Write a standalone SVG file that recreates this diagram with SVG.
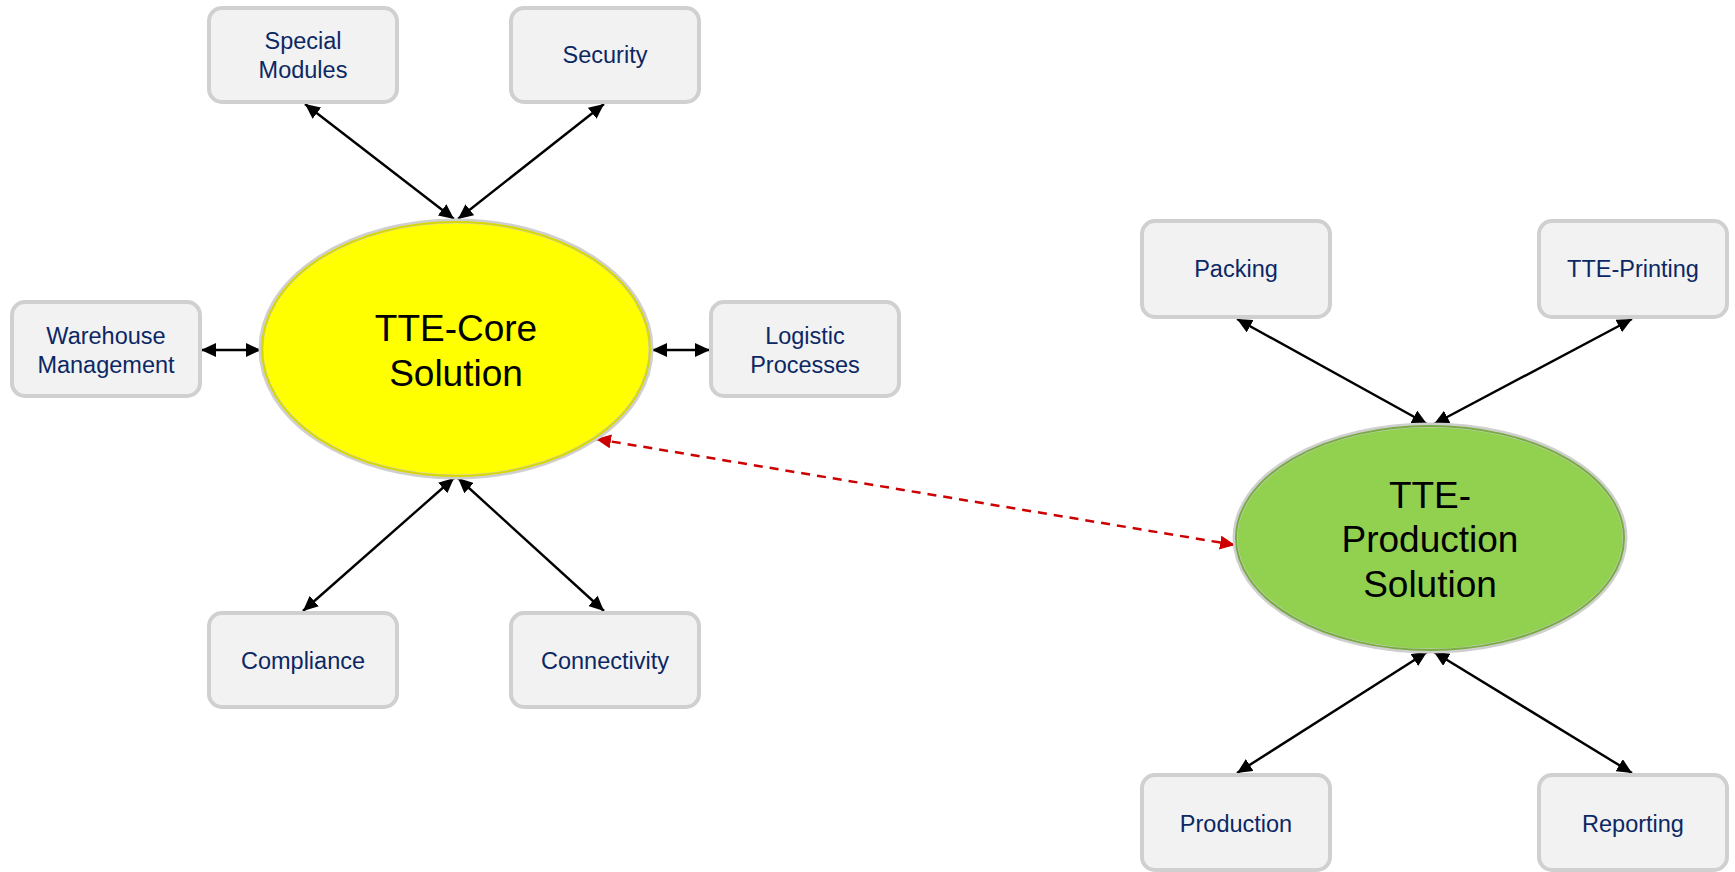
<svg xmlns="http://www.w3.org/2000/svg" width="1735" height="872" viewBox="0 0 1735 872">
<defs>
<style>
.box{fill:#f2f2f2;stroke:#d0d0d0;stroke-width:4}
.lbl{font-family:"Liberation Sans",Arial,sans-serif;font-size:23.5px;fill:#0c2864;text-anchor:middle}
.big{font-family:"Liberation Sans",Arial,sans-serif;font-size:37px;fill:#000;text-anchor:middle}
.con{stroke:#000;stroke-width:2.4;fill:none;marker-start:url(#ah);marker-end:url(#ah)}
.red{stroke:#cc0000;stroke-width:2.5;fill:none;stroke-dasharray:9 7;marker-start:url(#ahr);marker-end:url(#ahr)}
</style>
<marker id="ah" markerUnits="userSpaceOnUse" markerWidth="16" markerHeight="14" refX="15" refY="7" orient="auto-start-reverse"><path d="M0,0 L15,7 L0,14 z" fill="#000"/></marker>
<marker id="ahr" markerUnits="userSpaceOnUse" markerWidth="16" markerHeight="14" refX="15" refY="7" orient="auto-start-reverse"><path d="M0,0 L15,7 L0,14 z" fill="#cc0000"/></marker>
</defs>
<rect width="1735" height="872" fill="#fff"/>
<g id="connectors">
<line class="con" x1="305" y1="104" x2="454" y2="219"/>
<line class="con" x1="604" y1="104" x2="458" y2="219"/>
<line class="con" x1="201" y1="350" x2="261" y2="350"/>
<line class="con" x1="652" y1="350" x2="710" y2="350"/>
<line class="con" x1="303" y1="611" x2="454" y2="478"/>
<line class="con" x1="604" y1="611" x2="458" y2="478"/>
<line class="con" x1="1237" y1="319" x2="1427" y2="424"/>
<line class="con" x1="1632" y1="319" x2="1434" y2="424"/>
<line class="con" x1="1237" y1="773" x2="1427" y2="652"/>
<line class="con" x1="1632" y1="773" x2="1434" y2="652"/>
<line class="red" x1="596" y1="439" x2="1235" y2="545"/>
</g>
<g id="core">
<ellipse cx="456" cy="349" rx="195" ry="128" fill="#ffff00" stroke="#cfcfcf" stroke-width="5"/>
<ellipse cx="456" cy="349" rx="194" ry="127" fill="none" stroke="#d8d800" stroke-width="2"/>
<text class="big" x="456" y="341">TTE-Core</text>
<text class="big" x="456" y="386">Solution</text>
</g>
<g id="production-solution">
<ellipse cx="1430" cy="538" rx="195" ry="113" fill="#92d050" stroke="#cfcfcf" stroke-width="5"/>
<ellipse cx="1430" cy="538" rx="194" ry="112" fill="none" stroke="#78ac42" stroke-width="2"/>
<text class="big" x="1430" y="508">TTE-</text>
<text class="big" x="1430" y="552">Production</text>
<text class="big" x="1430" y="597">Solution</text>
</g>
<g id="special-modules"><rect class="box" x="209" y="8" width="188" height="94" rx="13"/><text class="lbl" x="303" y="49">Special</text><text class="lbl" x="303" y="78">Modules</text></g>
<g id="security"><rect class="box" x="511" y="8" width="188" height="94" rx="13"/><text class="lbl" x="605" y="63">Security</text></g>
<g id="warehouse"><rect class="box" x="12" y="302" width="188" height="94" rx="13"/><text class="lbl" x="106" y="344">Warehouse</text><text class="lbl" x="106" y="373">Management</text></g>
<g id="logistic"><rect class="box" x="711" y="302" width="188" height="94" rx="13"/><text class="lbl" x="805" y="344">Logistic</text><text class="lbl" x="805" y="373">Processes</text></g>
<g id="compliance"><rect class="box" x="209" y="613" width="188" height="94" rx="13"/><text class="lbl" x="303" y="669">Compliance</text></g>
<g id="connectivity"><rect class="box" x="511" y="613" width="188" height="94" rx="13"/><text class="lbl" x="605" y="669">Connectivity</text></g>
<g id="packing"><rect class="box" x="1142" y="221" width="188" height="96" rx="13"/><text class="lbl" x="1236" y="277">Packing</text></g>
<g id="tte-printing"><rect class="box" x="1539" y="221" width="188" height="96" rx="13"/><text class="lbl" x="1633" y="277">TTE-Printing</text></g>
<g id="production"><rect class="box" x="1142" y="775" width="188" height="95" rx="13"/><text class="lbl" x="1236" y="832">Production</text></g>
<g id="reporting"><rect class="box" x="1539" y="775" width="188" height="95" rx="13"/><text class="lbl" x="1633" y="832">Reporting</text></g>
</svg>
